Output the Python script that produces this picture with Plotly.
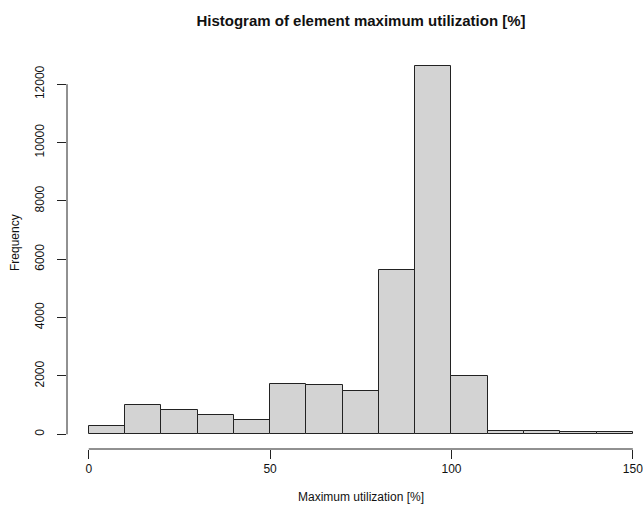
import plotly.graph_objects as go

bin_left = [0, 10, 20, 30, 40, 50, 60, 70, 80, 90, 100, 110, 120, 130, 140]
counts = [275, 1000, 823, 652, 480, 1735, 1680, 1475, 5625, 12633, 2010, 103, 103, 69, 69]
bin_width = 10
x_ticks = [0, 50, 100, 150]
y_ticks = [0, 2000, 4000, 6000, 8000, 10000, 12000]

centers = [b + bin_width / 2 for b in bin_left]

fig = go.Figure()
fig.add_trace(go.Bar(
    x=centers, y=counts, width=[bin_width] * len(counts),
    marker=dict(color="#D3D3D3", line=dict(color="#222222", width=1)),
    hoverinfo="skip",
))

font = "Liberation Sans, Arial, sans-serif"
fig.update_layout(
    width=643, height=511,
    margin=dict(l=67, r=0, t=51, b=62, autoexpand=False),
    paper_bgcolor="white", plot_bgcolor="white",
    showlegend=False,
    bargap=0,
    font=dict(family=font, color="#111111", size=12),
    title=dict(text="<b>Histogram of element maximum utilization [%]</b>",
               x=361 / 643, xanchor="center", y=1 - 21 / 511, yanchor="middle",
               font=dict(size=15, family=font, color="#111111")),
    xaxis=dict(range=[-6, 152.8], tickmode="array", tickvals=x_ticks,
               ticks="outside", ticklen=9, tickcolor="#222222", tickwidth=1,
               showgrid=False, zeroline=False, showline=False, automargin=False,
               ticklabeloverflow="allow",
               tickfont=dict(size=12)),
    yaxis=dict(range=[-505, 13138], tickmode="array", tickvals=y_ticks,
               ticktext=[str(v) for v in y_ticks],
               ticks="outside", ticklen=9, tickcolor="#222222", tickwidth=1,
               tickangle=-90, ticklabelstandoff=8, automargin=False,
               ticklabeloverflow="allow",
               showgrid=False, zeroline=False, showline=False,
               tickfont=dict(size=12)),
)

# R-style axis lines spanning first to last tick
fig.add_shape(type="line", xref="x", yref="paper", x0=x_ticks[0], x1=x_ticks[-1],
              y0=0, y1=0, line=dict(color="#222222", width=1))
fig.add_shape(type="line", xref="paper", yref="y", x0=0, x1=0,
              y0=y_ticks[0], y1=y_ticks[-1], line=dict(color="#222222", width=1))

fig.add_annotation(text="Maximum utilization [%]", xref="paper", yref="paper",
                   x=(361 - 67) / 576, y=-(497 - 449) / (511 - 113),
                   xanchor="center", yanchor="middle", showarrow=False,
                   font=dict(size=12, family=font, color="#111111"))
fig.add_annotation(text="Frequency", xref="paper", yref="paper",
                   x=-(67 - 15) / 576, y=(449 - 243) / 398, textangle=-90,
                   xanchor="center", yanchor="middle", showarrow=False,
                   font=dict(size=12, family=font, color="#111111"))

fig.write_html("out.html", config={"displayModeBar": False},
               post_script="document.body.style.margin='0px';document.body.style.overflow='hidden';")
